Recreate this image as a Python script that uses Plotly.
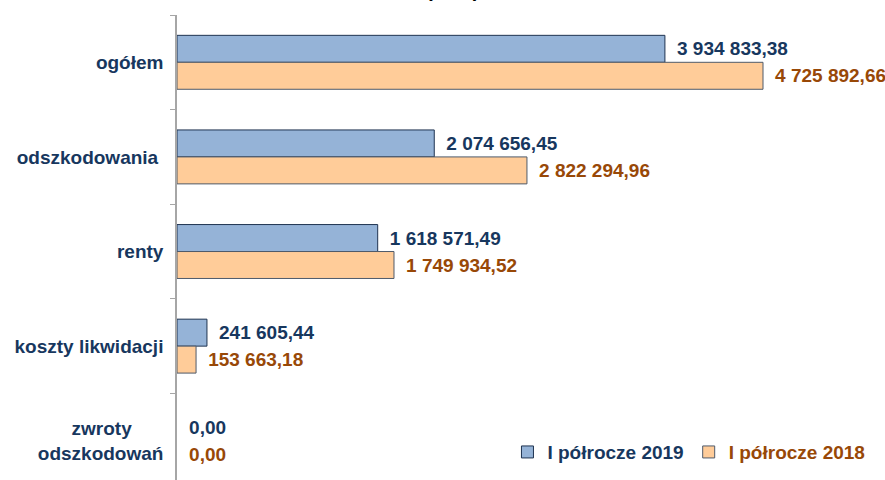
import plotly.graph_objects as go

categories = ["ogółem", "odszkodowania\u00a0", "renty", "koszty likwidacji",
              "zwroty" + "\u00a0" * 6 + "<br>odszkodowań"]
series_2019 = [3934833.38, 2074656.45, 1618571.49, 241605.44, 0.00]
series_2018 = [4725892.66, 2822294.96, 1749934.52, 153663.18, 0.00]
name_2019 = "I półrocze 2019"
name_2018 = "I półrocze 2018"
title_text = "(PLN)"

NAVY = "#17375E"
BROWN = "#984807"
FONT = "Arial, Liberation Sans, sans-serif"
FS = 19


def fmt(v):
    s = f"{v:,.2f}"
    ip, dp = s.split(".")
    return "\u00a0\u2009" + ip.replace(",", " ") + "," + dp


def edge_widths(vals):
    return [1 if v > 0 else 0 for v in vals]


fig = go.Figure()
fig.add_trace(go.Bar(
    y=categories, x=series_2019, orientation="h", name=f"<span style='color:{NAVY}'><b>{name_2019}</b></span>",
    marker=dict(color="#95B3D7", line=dict(color="#1F3350", width=edge_widths(series_2019))),
    text=[fmt(v) for v in series_2019], textposition="outside",
    textfont=dict(color=NAVY, size=FS, family=FONT, weight="bold"),
    cliponaxis=False, constraintext="none",
))
fig.add_trace(go.Bar(
    y=categories, x=series_2018, orientation="h", name=f"<span style='color:{BROWN}'><b>{name_2018}</b></span>",
    marker=dict(color="#FFCC99", line=dict(color="#4F5A6A", width=edge_widths(series_2018))),
    text=[fmt(v) for v in series_2018], textposition="outside",
    textfont=dict(color=BROWN, size=FS, family=FONT, weight="bold"),
    cliponaxis=False, constraintext="none",
))

fig.update_layout(
    width=885, height=480,
    margin=dict(l=177, r=88, t=15, b=0, autoexpand=False),
    paper_bgcolor="white", plot_bgcolor="white",
    barmode="group", bargap=0.43, bargroupgap=0,
    showlegend=True,
    legend=dict(orientation="h", x=0.533, y=0.06, xanchor="left", yanchor="middle",
                font=dict(size=FS, family=FONT, color=NAVY),
                bgcolor="rgba(0,0,0,0)", traceorder="normal"),
    font=dict(family=FONT),
)
fig.update_xaxes(range=[0, 5000000], visible=False, showgrid=False, zeroline=False, automargin=False)
fig.update_yaxes(
    type="category", categoryorder="array", categoryarray=categories, automargin=False,
    range=[4.415, -0.5], tickson="boundaries", ticks="outside", ticklen=5,
    tickcolor="#A6A6A6", showline=True, linecolor="#A6A6A6", linewidth=1.5,
    showgrid=False, zeroline=False, ticklabelstandoff=8,
    tickfont=dict(size=FS, family=FONT, color=NAVY, weight="bold"),
)
fig.add_annotation(text=f"<b>{title_text}</b>", xref="paper", yref="paper", x=(452 - 177) / 620, y=1.026,
                   xanchor="center", yanchor="bottom", showarrow=False,
                   font=dict(size=20, family=FONT, color="#000000"))

fig.write_html("out.html", config={"displayModeBar": False},
               post_script="document.body.style.margin='0';document.body.style.overflow='hidden';")
